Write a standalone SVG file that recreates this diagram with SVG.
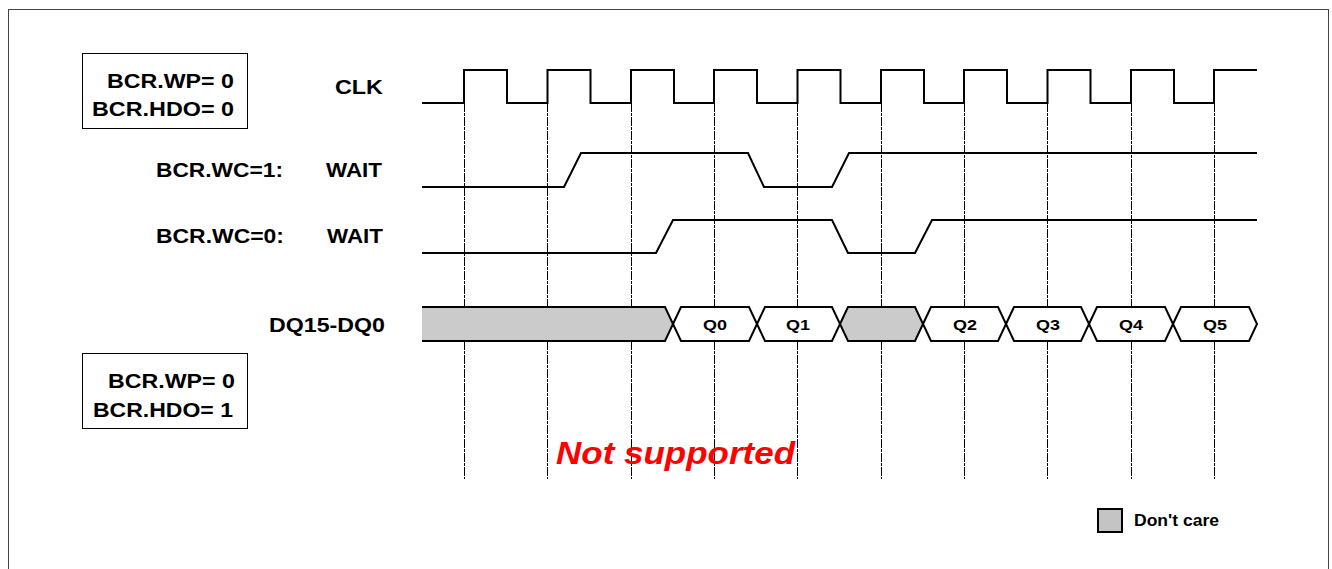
<svg xmlns="http://www.w3.org/2000/svg" width="1332" height="569" viewBox="0 0 1332 569">
<style>
.lbl{font-family:"Liberation Sans",Arial,sans-serif;font-weight:bold;font-size:21px;fill:#000}
.q{font-family:"Liberation Sans",Arial,sans-serif;font-weight:bold;font-size:15px;fill:#000}
.wave{fill:none;stroke:#000;stroke-width:2;stroke-linejoin:miter}
.grid{stroke:#000;stroke-width:1;stroke-dasharray:9,1,3,1}
.dc{fill:#cbcbcb;stroke:#000;stroke-width:2}
.data{fill:#fff;stroke:#000;stroke-width:2}
.box{fill:#fff;stroke:#000;stroke-width:1}
</style>
<rect width="1332" height="569" fill="#fff"/>
<rect x="8.5" y="9.5" width="1320" height="600" fill="none" stroke="#444" stroke-width="1"/>

<g id="config-box-1">
<rect class="box" x="82.5" y="53.5" width="165" height="75"/>
<text class="lbl" x="107" y="88" textLength="127" lengthAdjust="spacingAndGlyphs">BCR.WP= 0</text>
<text class="lbl" x="92" y="116" textLength="142" lengthAdjust="spacingAndGlyphs">BCR.HDO= 0</text>
</g>
<g id="config-box-2">
<rect class="box" x="82.5" y="353.5" width="165" height="75"/>
<text class="lbl" x="108" y="388" textLength="127" lengthAdjust="spacingAndGlyphs">BCR.WP= 0</text>
<text class="lbl" x="93" y="417" textLength="140" lengthAdjust="spacingAndGlyphs">BCR.HDO= 1</text>
</g>

<g id="signal-labels">
<text class="lbl" x="335" y="94" textLength="48" lengthAdjust="spacingAndGlyphs">CLK</text>
<text class="lbl" x="156" y="177" textLength="127" lengthAdjust="spacingAndGlyphs">BCR.WC=1:</text>
<text class="lbl" x="326" y="177" textLength="56" lengthAdjust="spacingAndGlyphs">WAIT</text>
<text class="lbl" x="156" y="243" textLength="128" lengthAdjust="spacingAndGlyphs">BCR.WC=0:</text>
<text class="lbl" x="327" y="243" textLength="56" lengthAdjust="spacingAndGlyphs">WAIT</text>
<text class="lbl" x="269" y="332" textLength="116" lengthAdjust="spacingAndGlyphs">DQ15-DQ0</text>
</g>

<g id="grid-lines">
<line class="grid" x1="464.5" y1="103" x2="464.5" y2="479"/>
<line class="grid" x1="547.5" y1="103" x2="547.5" y2="479"/>
<line class="grid" x1="631.5" y1="103" x2="631.5" y2="479"/>
<line class="grid" x1="714.5" y1="103" x2="714.5" y2="479"/>
<line class="grid" x1="797.5" y1="103" x2="797.5" y2="479"/>
<line class="grid" x1="881.5" y1="103" x2="881.5" y2="479"/>
<line class="grid" x1="964.5" y1="103" x2="964.5" y2="479"/>
<line class="grid" x1="1047.5" y1="103" x2="1047.5" y2="479"/>
<line class="grid" x1="1131.5" y1="103" x2="1131.5" y2="479"/>
<line class="grid" x1="1214.5" y1="103" x2="1214.5" y2="479"/>
</g>

<g id="clk">
<polyline class="wave" points="422,103 464,103 464,70 507,70 507,103 547.5,103 547.5,70 590.5,70 590.5,103 631,103 631,70 674,70 674,103 714,103 714,70 757,70 757,103 797.5,103 797.5,70 840.5,70 840.5,103 881,103 881,70 924,70 924,103 964,103 964,70 1007,70 1007,103 1047.5,103 1047.5,70 1090.5,70 1090.5,103 1131,103 1131,70 1174,70 1174,103 1214,103 1214,70 1257,70"/>
</g>

<g id="wait-wc1">
<polyline class="wave" points="422,187 564,187 581,153 748,153 764,187 832,187 849,153 1257,153"/>
</g>

<g id="wait-wc0">
<polyline class="wave" points="422,253 656,253 673,220 832,220 848,253 915,253 932,220 1257,220"/>
</g>

<g id="dq-bus">
<path d="M422,307 L665,307 L673,324 L665,341 L422,341 Z" fill="#cbcbcb" stroke="none"/>
<path d="M422,307 L665,307 L673,324 L665,341 L422,341" fill="none" stroke="#000" stroke-width="2"/>
<polygon class="data" points="673,324 681,307 749,307 757,324 749,341 681,341"/>
<polygon class="data" points="757,324 765,307 832,307 840,324 832,341 765,341"/>
<polygon class="dc" points="840,324 848,307 915,307 923,324 915,341 848,341"/>
<polygon class="data" points="923,324 931,307 998,307 1006,324 998,341 931,341"/>
<polygon class="data" points="1006,324 1014,307 1081,307 1089,324 1081,341 1014,341"/>
<polygon class="data" points="1089,324 1097,307 1165,307 1173,324 1165,341 1097,341"/>
<polygon class="data" points="1173,324 1181,307 1249,307 1257,324 1249,341 1181,341"/>
<text class="q" x="703" y="330" textLength="24" lengthAdjust="spacingAndGlyphs">Q0</text>
<text class="q" x="786" y="330" textLength="24" lengthAdjust="spacingAndGlyphs">Q1</text>
<text class="q" x="953" y="330" textLength="24" lengthAdjust="spacingAndGlyphs">Q2</text>
<text class="q" x="1036" y="330" textLength="24" lengthAdjust="spacingAndGlyphs">Q3</text>
<text class="q" x="1119" y="330" textLength="24" lengthAdjust="spacingAndGlyphs">Q4</text>
<text class="q" x="1203" y="330" textLength="24" lengthAdjust="spacingAndGlyphs">Q5</text>
</g>

<g id="note">
<text x="556" y="464" font-family="'Liberation Sans',Arial,sans-serif" font-weight="bold" font-style="italic" font-size="32" fill="#ff0000" textLength="239" lengthAdjust="spacingAndGlyphs">Not supported</text>
</g>

<g id="legend">
<rect x="1098" y="509" width="24" height="23" fill="#c4c4c4" stroke="#000" stroke-width="2"/>
<text x="1134" y="526" font-family="'Liberation Sans',Arial,sans-serif" font-weight="bold" font-size="17" fill="#000" textLength="85" lengthAdjust="spacingAndGlyphs">Don't care</text>
</g>
</svg>
